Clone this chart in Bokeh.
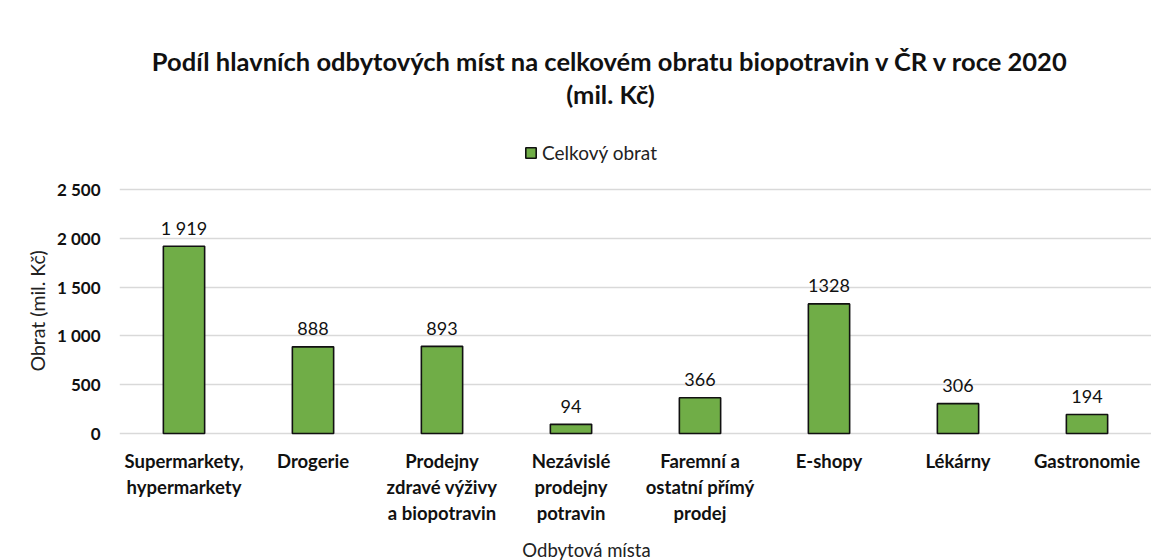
from bokeh.plotting import figure
from bokeh.models import (FixedTicker, Legend, LegendItem, ColumnDataSource,
                          Title, Label)
from bokeh.core.properties import value
from bokeh.embed import file_html
from bokeh.resources import INLINE

categories = [
    "Supermarkety, hypermarkety",
    "Drogerie",
    "Prodejny zdravé výživy a biopotravin",
    "Nezávislé prodejny potravin",
    "Faremní a ostatní přímý prodej",
    "E-shopy",
    "Lékárny",
    "Gastronomie",
]
label_line1 = ["Supermarkety,", "Drogerie", "Prodejny", "Nezávislé", "Faremní a",
               "E-shopy", "Lékárny", "Gastronomie"]
label_line2 = ["hypermarkety", "", "zdravé výživy", "prodejny", "ostatní přímý",
               "", "", ""]
label_line3 = ["", "", "a biopotravin", "potravin", "prodej", "", "", ""]
values = [1919, 888, 893, 94, 366, 1328, 306, 194]
value_labels = ["1 919", "888", "893", "94", "366", "1328", "306", "194"]
y_ticks = [0, 500, 1000, 1500, 2000, 2500]
y_tick_labels = ["0", "500", "1 000", "1 500", "2 000", "2 500"]

title_line1 = "Podíl hlavních odbytových míst na celkovém obratu biopotravin v ČR v roce 2020"
title_line2 = "(mil. Kč)"
series_name = "Celkový obrat"
x_title = "Odbytová místa"
y_title = "Obrat (mil. Kč)"

FONT = "Lato"
GREEN = "#70AD47"
TXT = "#111111"

# layout geometry (pixels)
W, H = 1151, 560
LEFT = 119            # frame left edge
ZERO_Y = 433          # pixel row of value 0
TOP_Y = 189           # pixel row of value 2500
PX_PER_UNIT = (ZERO_Y - TOP_Y) / y_ticks[-1]
Y_MAX = ZERO_Y / PX_PER_UNIT
Y_MIN = -(H - ZERO_Y) / PX_PER_UNIT

src = ColumnDataSource(dict(cat=categories, val=values, lab=value_labels))

p = figure(
    x_range=categories, y_range=(Y_MIN, Y_MAX),
    width=W, height=H, title=None,
    output_backend="svg", toolbar_location=None,
    min_border_left=LEFT, min_border_right=0,
    min_border_top=0, min_border_bottom=0,
)
p.outline_line_color = None
p.background_fill_color = "white"
p.border_fill_color = "white"

bars = p.vbar(x="cat", top="val", width=0.32, source=src,
              fill_color=GREEN, line_color="#111111", line_width=1.6)

p.text(x="cat", y="val", text="lab", source=src,
       text_align="center", text_baseline="alphabetic", y_offset=-18,
       text_font=value(FONT), text_font_size="18px", text_color=TXT)

# category labels (one text row per line, hung below the zero line)
lines = [label_line1, label_line2, label_line3]
tick_src = ColumnDataSource(dict(
    cat=categories * len(lines),
    txt=[t for ln in lines for t in ln],
    base=[0] * (len(categories) * len(lines)),
    off=[27 + 26 * i for i in range(len(lines)) for _ in categories],
))
p.text(x="cat", y="base", text="txt", y_offset="off", source=tick_src,
       text_align="center", text_baseline="middle",
       text_font=value(FONT), text_font_style="bold",
       text_font_size="18.5px", text_color=TXT)

# grid
p.xgrid.grid_line_color = None
p.ygrid.grid_line_color = "#d9d9d9"
p.ygrid.grid_line_width = 1.5
p.xaxis.visible = False

# y axis
yax = p.yaxis[0]
yax.axis_line_color = None
yax.major_tick_line_color = None
yax.minor_tick_line_color = None
yax.major_tick_out = 0
yax.major_tick_in = 0
yax.major_label_text_font = FONT
yax.major_label_text_font_style = "bold"
yax.major_label_text_font_size = "17px"
yax.major_label_text_color = TXT
yax.ticker = FixedTicker(ticks=y_ticks)
yax.major_label_overrides = {t: l for t, l in zip(y_ticks, y_tick_labels)}
yax.major_label_standoff = 19

p.add_layout(Title(text=y_title, align="left", offset=H - 371, text_font=FONT,
                   text_font_style="normal", text_font_size="19.5px",
                   text_color="#222222", standoff=9), "left")

# x-axis title
p.add_layout(Label(x=586 - LEFT, y=H - 549, x_units="screen", y_units="screen",
                   text=x_title, text_align="center", text_baseline="middle",
                   text_font=FONT, text_font_size="18.5px", text_color="#222222"))

# chart titles
for txt, yb in ((title_line1, H - 60), (title_line2, H - 93)):
    p.add_layout(Label(x=610 - LEFT, y=yb, x_units="screen", y_units="screen",
                       text=txt, text_align="center", text_baseline="alphabetic",
                       text_font=FONT, text_font_style="bold",
                       text_font_size="25.5px", text_color=TXT))

legend = Legend(items=[LegendItem(label=series_name, renderers=[bars])],
                location=(524 - LEFT, H - 164), orientation="horizontal",
                glyph_width=13, glyph_height=13, label_standoff=5,
                label_height=22,
                padding=0, margin=0, spacing=0,
                border_line_color=None, background_fill_alpha=0,
                label_text_font=FONT, label_text_font_size="19px",
                label_text_color="#222222")
p.add_layout(legend)

open("out.html", "w").write(file_html(p, INLINE))
